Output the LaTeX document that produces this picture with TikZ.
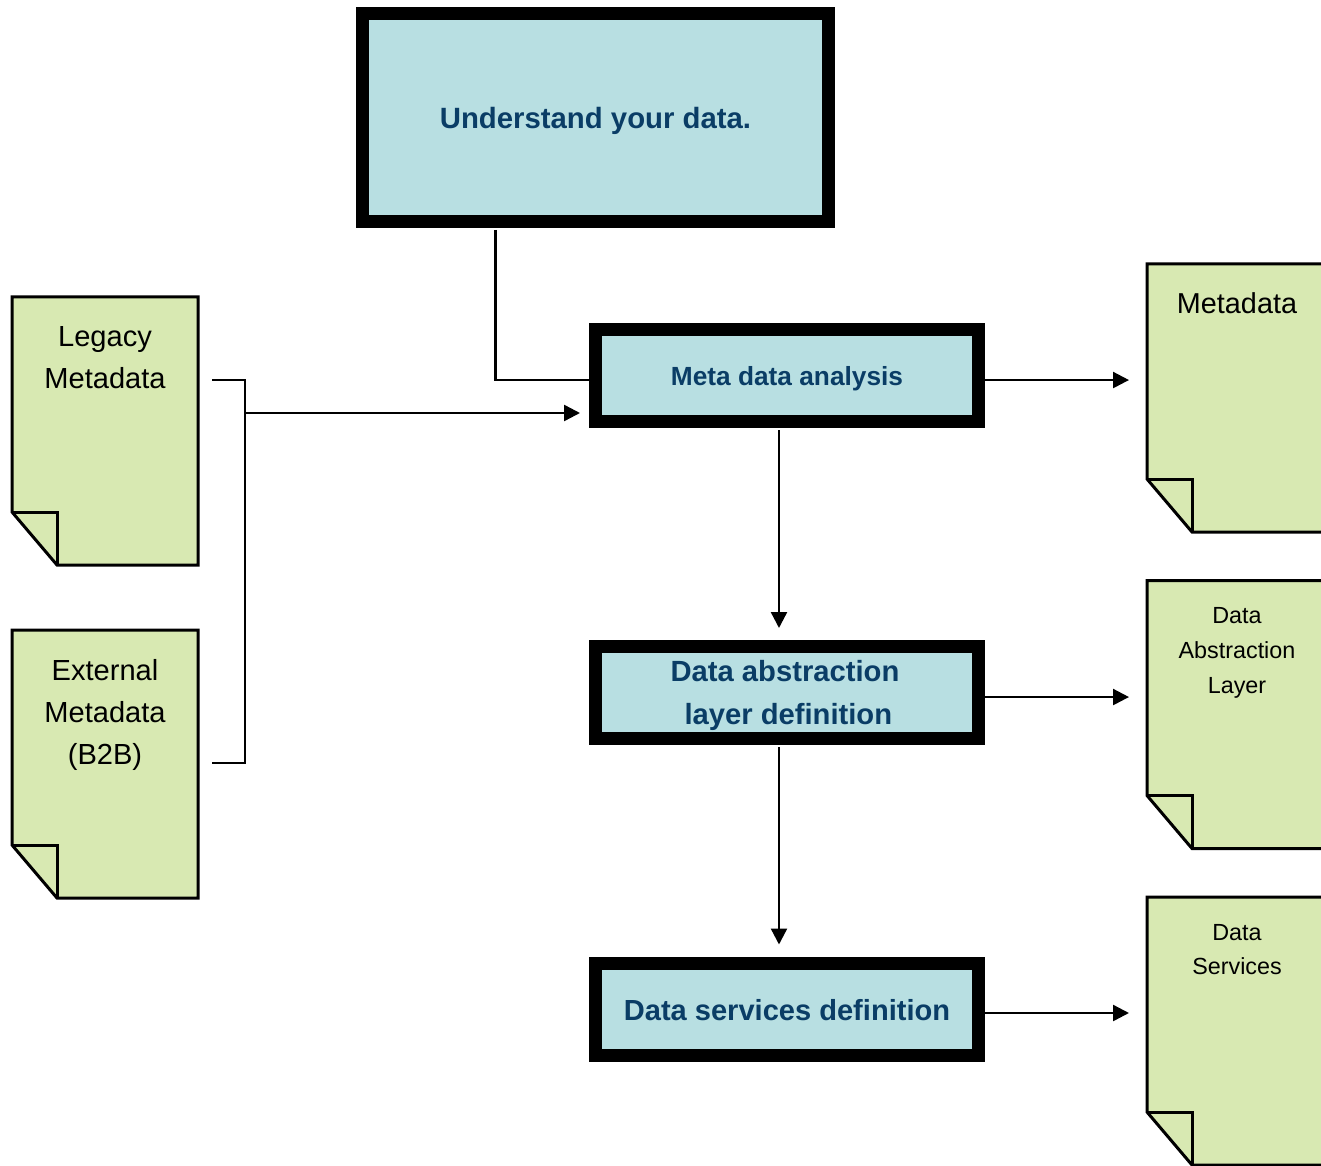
\documentclass[tikz,border=0pt]{standalone}
\usepackage{fontspec}
\setmainfont{Liberation Sans}
\usetikzlibrary{arrows.meta}
\definecolor{boxfill}{HTML}{B8DFE2}
\definecolor{docfill}{HTML}{D8E9B2}
\definecolor{boxtext}{HTML}{0A3D66}
\begin{document}
\begin{tikzpicture}[x=0.75pt,y=-0.75pt,
  bigbox/.style={draw=black,fill=boxfill,line width=9.75pt,inner sep=0pt,
     text=boxtext,font=\bfseries,align=center},
  boxlabel/.style={text=boxtext,align=center,inner sep=0pt},
  docarea/.style={inner sep=0pt,outer sep=0pt},
  docline/.style={draw=black,fill=docfill,line width=2.25pt,line join=miter},
  doctext/.style={align=center,text=black,inner sep=0pt},
  conn/.style={line width=1.8pt},
  arr/.style={line width=1.8pt,-{Triangle[length=12pt,width=12pt]}}]
\useasboundingbox (0,0) rectangle (1321,1166);

% main boxes
\node[bigbox,minimum width=349.5pt,minimum height=156pt] (top) at (595.5,117.5) {};
\node[bigbox,minimum width=287.25pt,minimum height=69pt] (meta) at (787,375.5) {};
\node[bigbox,minimum width=287.25pt,minimum height=69pt] (dal) at (787,692.5) {};
\node[bigbox,minimum width=287.25pt,minimum height=69pt] (dsv) at (787,1009) {};

% box labels
\node[boxlabel,font=\fontsize{22}{26}\selectfont\bfseries] (topt) at (595.5,120.5) {Understand your data.};
\node[boxlabel,font=\fontsize{19.7}{24}\selectfont\bfseries] (metat) at (787,379) {Meta data analysis};
\node[boxlabel,font=\fontsize{21.9}{32.25}\selectfont\bfseries] (dalt) at (785,695.5) {Data abstraction\\\hspace*{5pt}layer definition};
\node[boxlabel,font=\fontsize{21.8}{26}\selectfont\bfseries] (dsvt) at (787,1010.5) {Data services definition};

% document areas
\node[docarea,minimum width=139.5pt,minimum height=201pt] (legacy) at (105,431) {};
\node[docarea,minimum width=139.5pt,minimum height=201pt] (external) at (105,764) {};
\node[docarea,minimum width=139.5pt,minimum height=201pt] (mdoc) at (1240,398) {};
\node[docarea,minimum width=139.5pt,minimum height=201pt] (daldoc) at (1240,714.5) {};
\node[docarea,minimum width=139.5pt,minimum height=201pt] (dsdoc) at (1240,1031) {};

% document outlines
\foreach \d in {legacy,external,mdoc,daldoc,dsdoc}{
  \draw[docline] (\d.north west) -- (\d.north east) -- (\d.south east)
     -- ([xshift=33.75pt]\d.south west) -- ([yshift=39.75pt]\d.south west) -- cycle;
  \draw[docline,fill=none] ([yshift=39.75pt]\d.south west) -- ([xshift=33.75pt,yshift=39.75pt]\d.south west) -- ([xshift=33.75pt]\d.south west);
}

% document texts
\node[doctext,font=\fontsize{21.8}{31.5}\selectfont] (legacyt) at (105,358) {Legacy\\Metadata};
\node[doctext,font=\fontsize{21.8}{31.5}\selectfont] (externalt) at (105,714.5) {External\\Metadata\\(B2B)};
\node[doctext,font=\fontsize{21.6}{26}\selectfont] (mdoct) at (1237,303) {Metadata};
\node[doctext,font=\fontsize{17.5}{26}\selectfont] (daldoct) at (1237,653) {Data\\Abstraction\\Layer};
\node[doctext,font=\fontsize{17.5}{26}\selectfont] (dsdoct) at (1237,949.5) {Data\\Services};

% connectors
\draw[conn] ([xshift=-75pt,yshift=-1.5pt]top.south) |- ([yshift=-3.4pt]meta.west);

\coordinate (b1) at (212,380);
\coordinate (b2) at (245,380);
\coordinate (b3) at (245,763);
\coordinate (b4) at (212,763);
\coordinate (bm) at (245,413);
\draw[conn,line width=2.1pt] (b1) -- (b2) -- (b3) -- (b4);
\draw[arr,shorten >=6.75pt] (bm) -- (bm -| meta.west);

\draw[arr,shorten >=13.5pt] ([yshift=-3.4pt]meta.east) -- ([yshift=-3.4pt]meta.east -| mdoc.west);
\draw[arr,shorten >=13.5pt] ([yshift=-3.4pt]dal.east) -- ([yshift=-3.4pt]dal.east -| daldoc.west);
\draw[arr,shorten >=13.5pt] ([yshift=-3pt]dsv.east) -- ([yshift=-3pt]dsv.east -| dsdoc.west);

\draw[arr,shorten >=9pt,shorten <=1.5pt] ([xshift=-6pt]meta.south) -- ([xshift=-6pt]dal.north);
\draw[arr,shorten >=9pt,shorten <=1.5pt] ([xshift=-6pt]dal.south) -- ([xshift=-6pt]dsv.north);
\end{tikzpicture}
\end{document}
